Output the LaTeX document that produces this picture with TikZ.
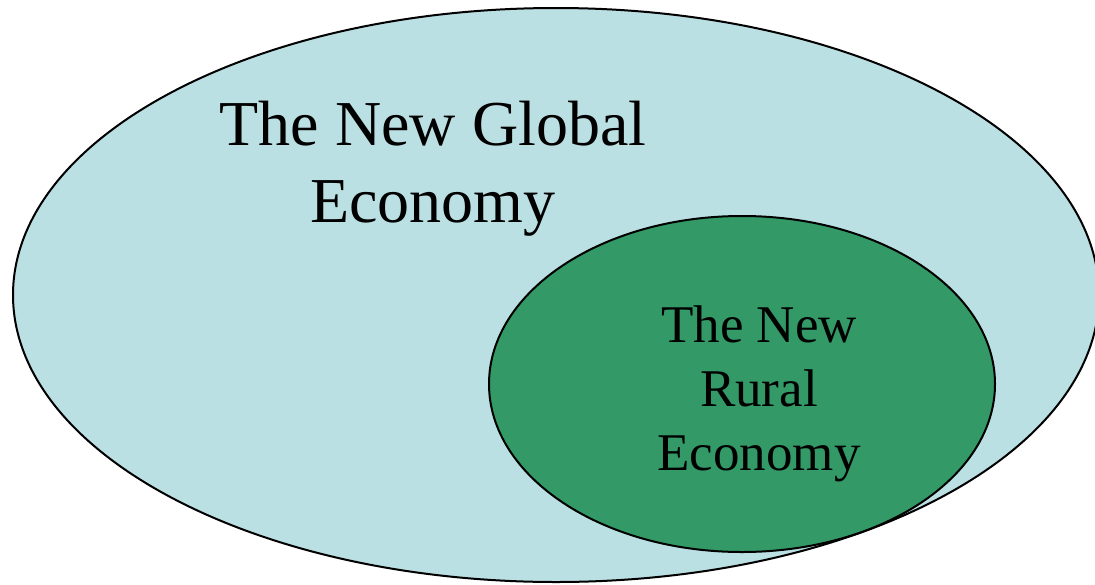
\documentclass[tikz,border=0pt]{standalone}
\usepackage{fontspec}
\setmainfont{Liberation Serif}
\definecolor{globalblue}{HTML}{BBE0E3}
\definecolor{ruralgreen}{HTML}{339966}
\tikzset{
  region/.style={draw=black, line width=2pt},
  bigtext/.style={align=center, inner sep=0pt, font=\fontsize{64}{77}\selectfont},
  smalltext/.style={align=center, inner sep=0pt, font=\fontsize{53}{64}\selectfont},
}
\begin{document}
\begin{tikzpicture}[x=1pt,y=-1pt]
\useasboundingbox (0,0) rectangle (1095,584);
\begin{scope}
\clip (0,0) rectangle (1095,584);
\draw[region, fill=globalblue] (556,295) ellipse [x radius=543, y radius=287];
\end{scope}
\node[bigtext] (global) at (433,168.5) {The New Global\\Economy};
\draw[region, fill=ruralgreen] (742,384) ellipse [x radius=253, y radius=168];
\node[smalltext] (rural) at (759,394) {The New\\Rural\\Economy};
\end{tikzpicture}
\end{document}
